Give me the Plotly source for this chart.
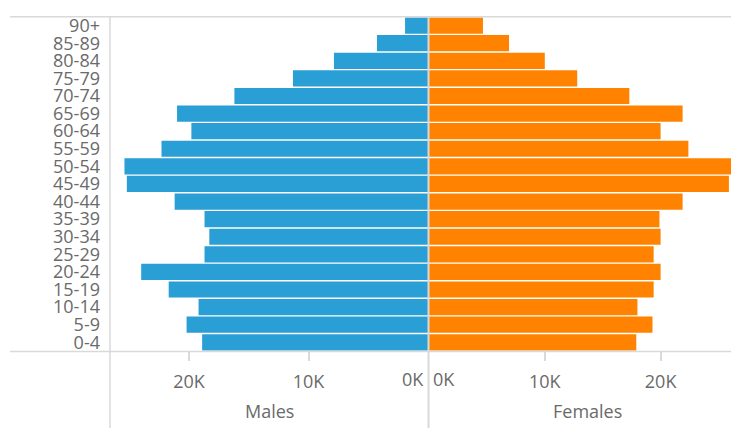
import plotly.graph_objects as go

ages = ["0-4", "5-9", "10-14", "15-19", "20-24", "25-29", "30-34", "35-39", "40-44",
        "45-49", "50-54", "55-59", "60-64", "65-69", "70-74", "75-79", "80-84", "85-89", "90+"]
males = [18900, 20200, 19200, 21700, 24000, 18700, 18300, 18700, 21200,
         25200, 25400, 22300, 19800, 21000, 16200, 11300, 7870, 4270, 1920]
females = [17900, 19300, 18000, 19400, 20000, 19400, 20000, 19900, 21900,
           25900, 26800, 22400, 20000, 21900, 17300, 12800, 10000, 6910, 4660]
male_ticks = [20000, 10000]
female_ticks = [10000, 20000]

OFF = 0
W, H = 731 - OFF, 430 - OFF
BLUE = "#2a9fd6"
ORANGE = "#ff8300"
LINE = "#d9d9d9"
TXT = "#6a6a6a"
FONT = "Open Sans"

def px(x):
    return (x - OFF) / W

def py(y):
    return 1 - (y - OFF) / H

fig = go.Figure()
fig.add_trace(go.Bar(y=ages, x=males, orientation="h", marker=dict(color=BLUE, line=dict(width=0)),
                     xaxis="x", yaxis="y", showlegend=False, name="Males"))
fig.add_trace(go.Bar(y=ages, x=females, orientation="h", marker=dict(color=ORANGE, line=dict(width=0)),
                     xaxis="x2", yaxis="y", showlegend=False, name="Females"))

tickfont = dict(family=FONT, size=18, color=TXT)
common_x = dict(showgrid=False, zeroline=False, showline=False, fixedrange=True,
                tickfont=tickfont, ticks="outside", ticklen=9, tickcolor=LINE, tickwidth=1.5,
                ticklabelstandoff=5)

fig.update_layout(
    width=W, height=H,
    margin=dict(l=0, r=0, t=0, b=0),
    paper_bgcolor="white", plot_bgcolor="white",
    bargap=0.08,
    xaxis=dict(domain=[px(110), px(428)], range=[26610, 0], anchor="y",
               tickvals=male_ticks, ticktext=[f"{v//1000}K" for v in male_ticks], **common_x),
    xaxis2=dict(domain=[px(429), 1], range=[0, 26080], anchor="y",
                tickvals=female_ticks, ticktext=[f"{v//1000}K" for v in female_ticks], **common_x),
    yaxis=dict(domain=[py(352), py(13)], anchor="x", categoryorder="array", categoryarray=ages,
               tickmode="array", tickvals=ages, ticktext=ages,
               range=[-0.5, len(ages) - 0.5], showgrid=False, zeroline=False, showline=False,
               ticks="", ticklabelstandoff=9, fixedrange=True,
               tickfont=dict(family=FONT, size=18, color=TXT)),
    shapes=[
        dict(type="line", xref="paper", yref="paper", x0=px(10), x1=1, y0=py(13), y1=py(13),
             line=dict(color=LINE, width=1.5)),
        dict(type="line", xref="paper", yref="paper", x0=px(10), x1=1, y0=py(352.5), y1=py(352.5),
             line=dict(color=LINE, width=1.5)),
        dict(type="line", xref="paper", yref="paper", x0=px(110), x1=px(110), y0=py(13), y1=0,
             line=dict(color=LINE, width=1.5)),
        dict(type="line", xref="paper", yref="paper", x0=px(428.5), x1=px(428.5), y0=py(13), y1=0,
             line=dict(color=LINE, width=2)),
    ],
    annotations=[
        dict(text="0K", xref="x", yref="paper", x=0, y=py(380), showarrow=False,
             xanchor="right", yanchor="middle", xshift=-2, font=tickfont),
        dict(text="0K", xref="x2", yref="paper", x=0, y=py(380), showarrow=False,
             xanchor="left", yanchor="middle", xshift=2, font=tickfont),
        dict(text="Males", xref="paper", yref="paper", x=px(269), y=py(413), showarrow=False,
             xanchor="center", yanchor="middle", font=dict(family=FONT, size=18, color=TXT)),
        dict(text="Females", xref="paper", yref="paper", x=px(587), y=py(413), showarrow=False,
             xanchor="center", yanchor="middle", font=dict(family=FONT, size=18, color=TXT)),
    ],
)

fig.write_html(
    "out.html",
    config={"displayModeBar": False, "responsive": False},
    post_script=("document.documentElement.style.overflow='hidden';"
                 "document.body.style.overflow='hidden';"
                 "document.body.style.margin='0';"),
)
